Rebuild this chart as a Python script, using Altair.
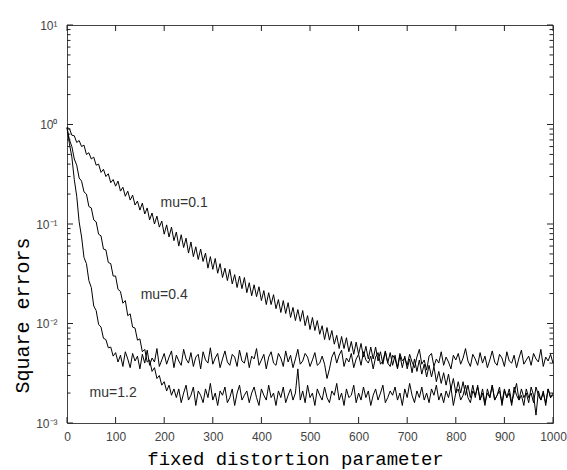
import altair as alt
import pandas as pd

# sample index (iteration), every 5th sample
steps = list(range(0, 1001, 5))

# mu = 1.2 : fast convergence, high floor (~4.4e-3)
mu_12 = [
    0.93, 0.64, 0.47, 0.28, 0.19, 0.105, 0.074, 0.046, 0.040, 0.027,
    0.023, 0.015, 0.0135, 0.0098, 0.0092, 0.0071, 0.0069, 0.0057, 0.0058, 0.0047,
    0.0051,
    .0041, .0048, .0037, .0052, .0044, .0036, .0050, .0042, .0047, .0035,
    .0049, .0040, .0054, .0038, .0045, .0041, .0056, .0037, .0043, .0050,
    .0039, .0046, .0053, .0036, .0048, .0042, .0038, .0055, .0044, .0040,
    .0051, .0037, .0046, .0049, .0035, .0052, .0043, .0040, .0057, .0039,
    .0045, .0050, .0036, .0044, .0053, .0041, .0038, .0049, .0046, .0037,
    .0054, .0042, .0040, .0051, .0036, .0047, .0044, .0056, .0038, .0043,
    .0049, .0035, .0046, .0052, .0040, .0038, .0050, .0045, .0037, .0053,
    .0041, .0048, .0036, .0044, .0055, .0039, .0042, .0050, .0046, .0037,
    .0043, .0051, .0038, .0040, .0047, .0039, .0028, .0035, .0046, .0052,
    .0040, .0048, .0054, .0037, .0045, .0041, .0050, .0036, .0044, .0049,
    .0038, .0052, .0043, .0040, .0047, .0035, .0046, .0051, .0039, .0042,
    .0053, .0040, .0037, .0048, .0044, .0036, .0050, .0042, .0045, .0038,
    .0049, .0041, .0036, .0046, .0055, .0039, .0043, .0034, .0047, .0050,
    .0037, .0044, .0040, .0052, .0038, .0046, .0041, .0035, .0048, .0043,
    .0050, .0039, .0045, .0056, .0042, .0037, .0049, .0044, .0038, .0051,
    .0040, .0047, .0036, .0043, .0053, .0041, .0038, .0049, .0045, .0037,
    .0052, .0042, .0040, .0048, .0036, .0045, .0054, .0039, .0043, .0047,
    .0038, .0050, .0044, .0041, .0055, .0037, .0046, .0042, .0049, .0040,
]

# mu = 0.4 : medium convergence, low floor (~1.9e-3)
mu_04 = [
    0.93, 0.70, 0.60, 0.45, 0.39, 0.29, 0.27, 0.21, 0.20, 0.15,
    0.145, 0.11, 0.105, 0.079, 0.076, 0.056, 0.055, 0.041, 0.040, 0.030,
    0.030, 0.022, 0.021, 0.016, 0.017, 0.012, 0.0125, 0.0092, 0.0090, 0.0068,
    0.0070, 0.0052, 0.0055, 0.0041, 0.0043, 0.0033, 0.0036, 0.0028, 0.0030, 0.0024,
    0.0026, 0.0021, 0.0024, 0.0019, 0.0022,
    .0018, .0022, .0016, .0020, .0024, .0017, .0019, .0023, .0015, .0021,
    .0019, .0016, .0022, .0018, .0025, .0017, .0020, .0015, .0021, .0019,
    .0023, .0016, .0018, .0022, .0015, .0020, .0024, .0017, .0019, .0021,
    .0016, .0020, .0023, .0018, .0015, .0022, .0019, .0017, .0024, .0018,
    .0020, .0015, .0021, .0018, .0023, .0016, .0019, .0022, .0017, .0020,
    .0035, .0017, .0021, .0016, .0024, .0018, .0020, .0015, .0022, .0019,
    .0017, .0023, .0018, .0016, .0021, .0019, .0025, .0017, .0020, .0015,
    .0022, .0018, .0019, .0024, .0016, .0020, .0017, .0023, .0018, .0021,
    .0015, .0019, .0022, .0017, .0020, .0024, .0016, .0018, .0021, .0019,
    .0023, .0017, .0020, .0015, .0022, .0018, .0025, .0019, .0016, .0021,
    .0018, .0023, .0017, .0020, .0016, .0022, .0019, .0024, .0017, .0020,
    .0016, .0021, .0018, .0023, .0015, .0020, .0022, .0017, .0019, .0024,
    .0018, .0016, .0021, .0019, .0023, .0017, .0020, .0015, .0022, .0018,
    .0024, .0017, .0019, .0021, .0016, .0022, .0018, .0020, .0015, .0023,
    .0019, .0017, .0022, .0018, .0020, .0016, .0023, .0019, .0012, .0021,
    .0017, .0020, .0016, .0022, .0018, .0019,
]

# mu = 0.1 : slow convergence
mu_01 = [
    0.93, 0.91, 0.78, 0.77, 0.66, 0.69, 0.60, 0.62, 0.50, 0.52,
    0.45, 0.47, 0.39, 0.40, 0.33, 0.355, 0.30, 0.32, 0.26, 0.28,
    0.24, 0.27, 0.214, 0.234, 0.19, 0.214, 0.174, 0.195, 0.155, 0.17,
    0.138, 0.162, 0.126, 0.145, 0.11, 0.129, 0.10, 0.12, 0.093, 0.107,
    0.079, 0.098, 0.074, 0.093, 0.068, 0.083, 0.060, 0.078, 0.058, 0.072,
    0.051, 0.066, 0.047, 0.059, 0.044, 0.056, 0.042, 0.051, 0.036, 0.047,
    0.035, 0.045, 0.032, 0.040, 0.029, 0.036, 0.027, 0.035, 0.025, 0.031,
    0.023, 0.030, 0.0224, 0.029, 0.0204, 0.0257, 0.019, 0.0245, 0.0186, 0.0234,
    0.017, 0.0214, 0.0155, 0.0204, 0.0155, 0.0195, 0.0141, 0.0174, 0.0129, 0.017,
    0.0126, 0.0162, 0.0115, 0.0145, 0.0107, 0.0138, 0.0105, 0.0135, 0.0095, 0.012,
    0.0087, 0.0115, 0.0085, 0.0107, 0.0078, 0.0095, 0.0069, 0.0091, 0.0068, 0.0085,
    0.0062, 0.0076, 0.0056, 0.0074, 0.0056, 0.0072, 0.0052, 0.0066, 0.0049, 0.0065,
    0.0049, 0.0063, 0.0046, 0.0059, 0.0044, 0.0058, 0.0044, 0.0058, 0.0042, 0.0052,
    0.0039, 0.0052, 0.0040, 0.0051, 0.0038, 0.0048, 0.0035, 0.0048, 0.0036, 0.0047,
    0.0035, 0.0044, 0.0032, 0.0044, 0.0033, 0.0043, 0.0031, 0.0039, 0.0029, 0.0038,
    0.0029, 0.0037, 0.0026, 0.0033, 0.0025, 0.0032, 0.0024, 0.0031, 0.0022, 0.0028,
    0.0020, 0.0026, 0.0020, 0.0026, 0.0019, 0.0024, 0.0018, 0.0024, 0.0018, 0.0024,
    0.0017,
    .0022, .0016, .0020, .0018, .0024, .0017, .0019, .0023, .0015, .0021,
    .0018, .0022, .0016, .0020, .0025, .0017, .0019, .0015, .0022, .0018,
    .0020, .0016, .0023, .0019, .0017, .0021, .0015, .0022, .0018, .0020,
]

series_names = ["mu=1.2", "mu=0.4", "mu=0.1"]

# annotations
ann_text = ["mu=0.1", "mu=0.4", "mu=1.2"]
ann_x = [241, 200, 95]
ann_y = [0.163, 0.0194, 0.0020]

# axes
x_ticks = [0, 100, 200, 300, 400, 500, 600, 700, 800, 900, 1000]
y_decades = [0.001, 0.01, 0.1, 1, 10]
y_minor = [
    0.002, 0.003, 0.004, 0.005, 0.006, 0.007, 0.008, 0.009,
    0.02, 0.03, 0.04, 0.05, 0.06, 0.07, 0.08, 0.09,
    0.2, 0.3, 0.4, 0.5, 0.6, 0.7, 0.8, 0.9,
    2, 3, 4, 5, 6, 7, 8, 9,
]

W, H = 486, 398
MAJOR, MINOR = 6, 3.5

frames = []
for name, vals in zip(series_names, [mu_12, mu_04, mu_01]):
    assert len(vals) == len(steps), (name, len(vals))
    frames.append(pd.DataFrame({"x": steps, "y": vals, "series": name}))
df = pd.concat(frames, ignore_index=True)
ann_df = pd.DataFrame({"x": ann_x, "y": ann_y, "label": ann_text})
xt_df = pd.DataFrame({"v": x_ticks})
ymaj_df = pd.DataFrame({"v": y_decades})
ymin_df = pd.DataFrame({"v": y_minor})

xscale = alt.Scale(domain=[0, 1000], nice=False, zero=False)
yscale = alt.Scale(type="log", domain=[0.001, 10], nice=False)

label_font = "Liberation Sans"
label_color = "#444"
tick_color = "#222"
sup_expr = (
    "datum.value >= 5 ? '10¹' : datum.value >= 0.5 ? '10⁰' : "
    "datum.value >= 0.05 ? '10⁻¹' : datum.value >= 0.005 ? '10⁻²' : '10⁻³'"
)

lines = alt.Chart(df).mark_line(color="black", strokeWidth=1).encode(
    x=alt.X(
        "x:Q",
        scale=xscale,
        axis=alt.Axis(
            orient="bottom", values=x_ticks, format="d", ticks=False, domain=False,
            grid=False, labelFlush=False, labelOverlap=False, labelFont=label_font,
            labelFontSize=12, labelColor=label_color, labelPadding=8,
            title="fixed distortion parameter", titleFont="Liberation Mono",
            titleFontSize=19, titleFontWeight="normal", titleColor="black",
            titleX=228, titleY=35, titleBaseline="middle",
        ),
    ),
    y=alt.Y(
        "y:Q",
        scale=yscale,
        axis=alt.Axis(
            orient="left", values=y_decades, labelExpr=sup_expr, ticks=False,
            domain=False, grid=False, labelFlush=False,
            labelOverlap=False, labelFont=label_font, labelFontSize=12,
            labelColor=label_color, labelPadding=10,
            title="Square errors", titleFont="Liberation Mono", titleFontSize=20,
            titleFontWeight="normal", titleColor="black", titleAngle=270,
            titleX=-45, titleY=290, titleBaseline="middle",
        ),
    ),
    detail="series:N",
)


def y_ticks(data, at, to):
    return alt.Chart(data).mark_rule(color=tick_color, strokeWidth=1).encode(
        y=alt.Y("v:Q", scale=yscale, axis=None),
        x=alt.value(at),
        x2=alt.value(to),
    )


def x_ticks_at(at, to):
    return alt.Chart(xt_df).mark_rule(color=tick_color, strokeWidth=1).encode(
        x=alt.X("v:Q", scale=xscale, axis=None),
        y=alt.value(at),
        y2=alt.value(to),
    )


# inward frame ticks on all four sides
tick_layers = [
    y_ticks(ymaj_df, 0, MAJOR),
    y_ticks(ymin_df, 0, MINOR),
    y_ticks(ymaj_df, W, W - MAJOR),
    y_ticks(ymin_df, W, W - MINOR),
    x_ticks_at(H, H - MAJOR),
    x_ticks_at(0, MAJOR),
]

ann = alt.Chart(ann_df).mark_text(
    font=label_font, fontSize=14, color="#333"
).encode(
    x=alt.X("x:Q", scale=xscale, axis=None),
    y=alt.Y("y:Q", scale=yscale, axis=None),
    text="label:N",
)

chart = (
    alt.layer(lines, *tick_layers, ann)
    .resolve_axis(x="independent", y="independent")
    .properties(
        width=W,
        height=H,
        padding={"left": 67, "top": 25, "right": 14, "bottom": 47},
        autosize=alt.AutoSizeParams(type="none"),
        background="white",
    )
    .configure_view(stroke="#444", strokeWidth=1)
)

chart.save("out.html", embed_options={"renderer": "svg", "actions": False})
